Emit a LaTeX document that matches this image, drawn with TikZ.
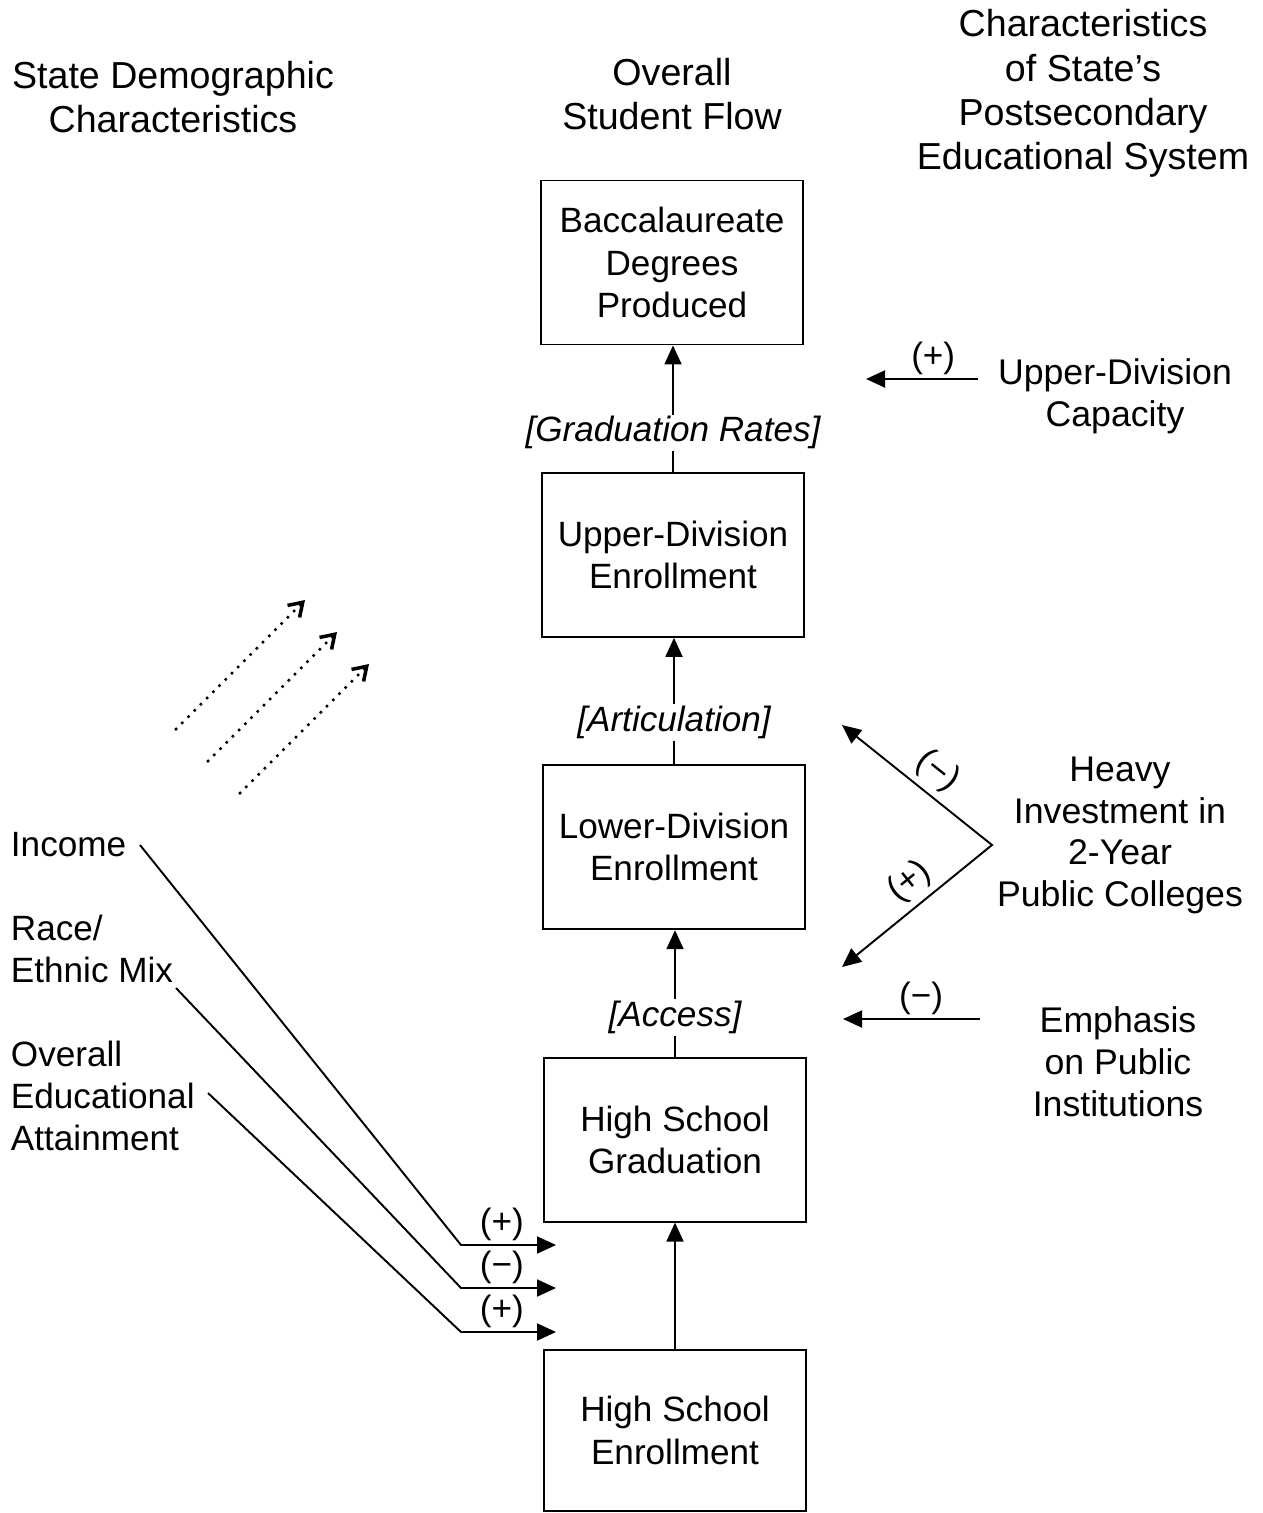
\documentclass[tikz,border=0pt]{standalone}
\usepackage{fontspec}
\setmainfont{Liberation Sans}
\usetikzlibrary{positioning,arrows.meta}

\begin{document}
\begin{tikzpicture}[
    x=0.02cm, y=-0.02cm, line width=1.1pt,
    >={Triangle[length=0.38cm,width=0.34cm]},
    every node/.style={font=\fontsize{20}{24}\selectfont, align=center},
    heading/.style={font=\fontsize{21.4}{25.2}\selectfont},
    sidenote/.style={font=\fontsize{20.3}{23.8}\selectfont},
    flowbox/.style={draw, line width=1.1pt, minimum width=5.24cm, minimum height=3.28cm},
    flowlabel/.style={fill=white, inner sep=1pt, font=\fontsize{20}{24}\selectfont\itshape},
    sign/.style={above, inner sep=2pt},
    sidetext/.style={anchor=west, inner sep=0pt, align=left},
    cue/.style={dash pattern=on 0pt off 5pt, line cap=round, line width=2pt,
        -{Straight Barb[length=0.26cm,width=0.34cm,line width=2pt]}}
]
    \useasboundingbox (0,0) rectangle (1262,1513);

    % column headings
    \node[heading] (demohead) at (173,97) {State Demographic\\Characteristics};
    \node[heading] (flowhead) at (672,94) {Overall\\Student Flow};
    \node[heading] (systhead) at (1083,93.5) {Characteristics\\of State’s\\Postsecondary\\Educational System};

    % student flow
    \node[flowbox, minimum height=3.22cm] (hse) at (675,1430.5) {High School\\Enrollment};
    \node[flowbox, above=2.53cm of hse] (hsg) {High School\\Graduation};
    \node[flowbox, above=2.53cm of hsg, xshift=-0.02cm] (ldiv) {Lower-Division\\Enrollment};
    \node[flowbox, above=2.53cm of ldiv, xshift=-0.02cm] (udiv) {Upper-Division\\Enrollment};
    \node[flowbox, above=2.53cm of udiv, xshift=-0.02cm] (bacc) {Baccalaureate\\Degrees\\Produced};

    \draw[->] (hse) -- (hsg);
    \draw[->] (hsg.north) -- node[flowlabel, pos=0.31] {[Access]} (hsg.north |- ldiv.south);
    \draw[->] (ldiv.north) -- node[flowlabel, pos=0.33] {[Articulation]} (ldiv.north |- udiv.south);
    \draw[->] (udiv.north) -- node[flowlabel, pos=0.31] {[Graduation Rates]} (udiv.north |- bacc.south);

    % postsecondary system
    \node[sidenote] (ucap) at (1115,396) {Upper-Division\\Capacity};
    \node[sidenote] (heavy) at (1120,835.5) {Heavy\\Investment in\\2-Year\\Public Colleges};
    \node[sidenote] (emph) at (1118,1062) {Emphasis\\on Public\\Institutions};

    \coordinate (ucap-s) at (978,379);
    \coordinate (ucap-e) at (866,379);
    \draw[->] (ucap-s) -- node[sign, pos=0.4] {(+)} (ucap-e);

    \coordinate (hv-top) at (842,725);
    \coordinate (hv-apex) at (992,845);
    \coordinate (hv-bot) at (842,967);
    \draw[<->] (hv-top) -- node[sign, sloped, inner sep=3.5pt, pos=0.54] {(−)} (hv-apex)
        -- node[sign, sloped, inner sep=3.5pt, pos=0.45] {(+)} (hv-bot);

    \coordinate (emph-s) at (980,1019);
    \coordinate (emph-e) at (843,1019);
    \draw[->] (emph-s) -- node[sign, pos=0.43] {(−)} (emph-e);

    % demographic characteristics
    \node[sidetext] (income) at (10,845) {Income};
    \node[sidetext] (race) at (10,949) {Race/\\Ethnic Mix};
    \node[sidetext] (attain) at (10,1096) {Overall\\Educational\\Attainment};

    \coordinate (inc-s) at (140,845);
    \coordinate (inc-k) at (461,1245);
    \coordinate (inc-e) at (556,1245);
    \coordinate (race-s) at (176,988);
    \coordinate (race-k) at (461,1288);
    \coordinate (race-e) at (556,1288);
    \coordinate (att-s) at (208,1093);
    \coordinate (att-k) at (461,1332);
    \coordinate (att-e) at (556,1332);
    \draw[->] (inc-s) -- (inc-k) -- node[sign, pos=0.43] {(+)} (inc-e);
    \draw[->] (race-s) -- (race-k) -- node[sign, pos=0.43] {(−)} (race-e);
    \draw[->] (att-s) -- (att-k) -- node[sign, pos=0.43] {(+)} (att-e);

    % dotted cues
    \foreach \i in {0,1,2}
        \draw[cue] (176+32*\i,729+32*\i) -- (305+32*\i,600+32*\i);
\end{tikzpicture}
\end{document}
